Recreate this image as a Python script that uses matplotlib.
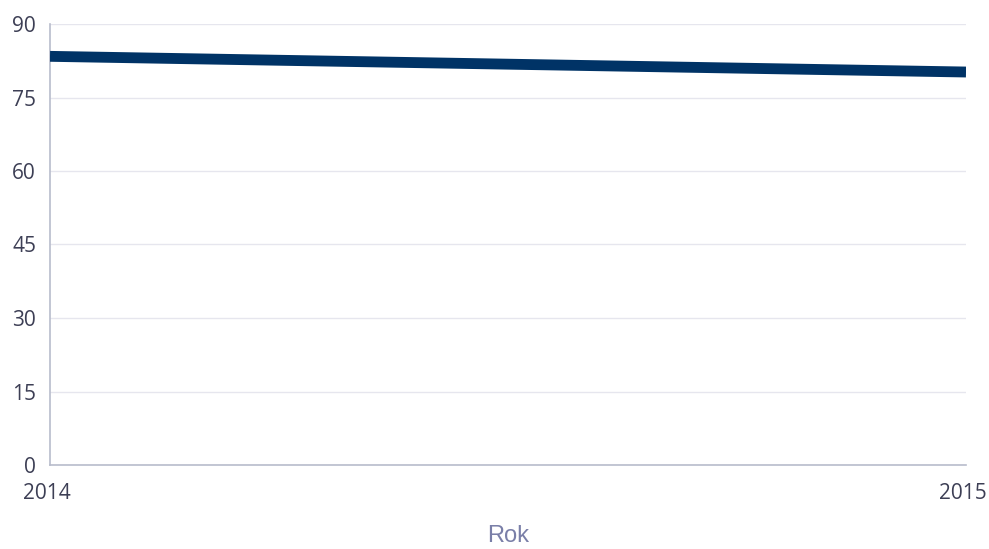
import matplotlib
matplotlib.use("Agg")
import matplotlib.pyplot as plt
import matplotlib.transforms as mtransforms

years = [2014, 2015]
values = [83.4, 80.2]
y_ticks = [0, 15, 30, 45, 60, 75, 90]
x_label = "Rok"

fig = plt.figure(figsize=(9.89, 5.49), dpi=100)
ax = fig.add_axes([50/989, 1-465/549, (966-50)/989, (465-24)/549])

ax.plot(years, values, color="#003366", linewidth=7.8, solid_capstyle="butt", zorder=3)

ax.set_xlim(2014, 2015)
ax.set_ylim(0, 90)
ax.set_yticks(y_ticks)
ax.set_xticks(years)
ax.set_xticklabels([str(y) for y in years])
ax.grid(axis="y", color="#e6e6ee", linewidth=1)
ax.set_axisbelow(True)
for s in ["top", "right"]:
    ax.spines[s].set_visible(False)
for s in ["left", "bottom"]:
    ax.spines[s].set_color("#b8bccc")
    ax.spines[s].set_linewidth(1.2)
ax.tick_params(axis="both", length=0, colors="#3d3f55", labelsize=15)
ax.tick_params(axis="y", pad=10)
ax.tick_params(axis="x", pad=13)
offset = mtransforms.ScaledTranslation(-3.5/100, 0, fig.dpi_scale_trans)
for lbl in ax.get_xticklabels():
    lbl.set_fontfamily("Open Sans")
    lbl.set_transform(lbl.get_transform() + offset)
for lbl in ax.get_yticklabels():
    lbl.set_fontfamily("Open Sans")
ax.set_xlabel(x_label, fontfamily="Liberation Sans", fontsize=17, color="#7a7fa8", labelpad=15)

fig.savefig("out.png", dpi=100)
